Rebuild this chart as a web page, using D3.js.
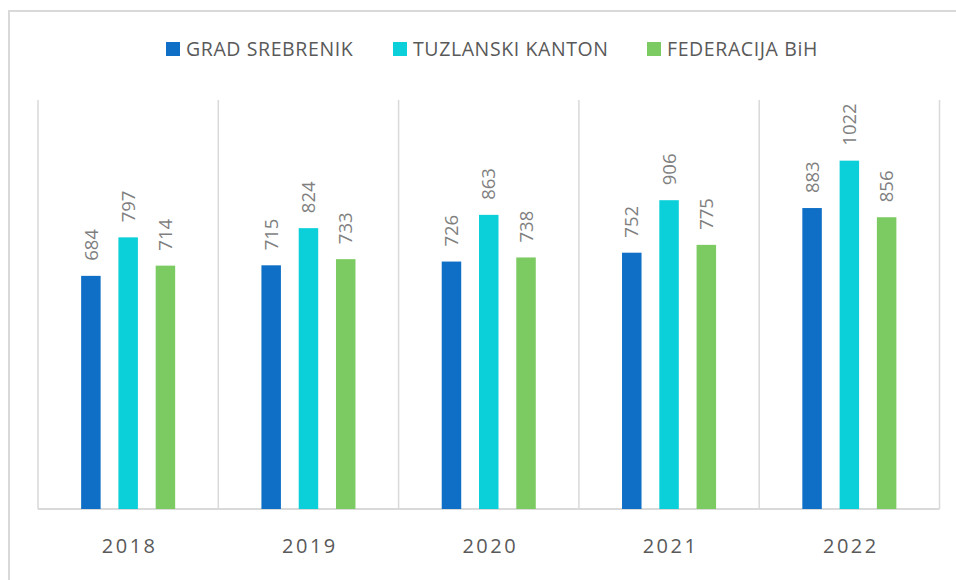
<!DOCTYPE html>
<meta charset="utf-8">
<style>
body { margin: 0; background: #fff; }
text { font-family: "Open Sans", sans-serif; }
.legend text { font-size: 19.5px; fill: #595959; letter-spacing: 0.6px; }
.axis text { font-size: 20px; fill: #595959; letter-spacing: 2.5px; }
.label { font-size: 18.5px; fill: #7f7f7f; }
.grid line { stroke: #d9d9d9; stroke-width: 1.5; }
</style>
<svg id="chart" width="956" height="580"></svg>
<script src="https://d3js.org/d3.v7.min.js"></script>
<script>

var years = ["2018", "2019", "2020", "2021", "2022"];
var series = ["GRAD SREBRENIK", "TUZLANSKI KANTON", "FEDERACIJA BiH"];
var colors = ["#0f6fc6", "#0bd0d9", "#7cca62"];
var gradSrebrenik = [684, 715, 726, 752, 883];
var tuzlanskiKanton = [797, 824, 863, 906, 1022];
var federacijaBih = [714, 733, 738, 775, 856];

var values = [gradSrebrenik, tuzlanskiKanton, federacijaBih];

var svg = d3.select("#chart"),
    margin = {top: 100, right: 16, bottom: 71, left: 38},
    width = +svg.attr("width") - margin.left - margin.right,
    height = +svg.attr("height") - margin.top - margin.bottom;

// outer chart frame, runs off the right and bottom edge like the original
svg.append("rect")
    .attr("x", 9).attr("y", 11)
    .attr("width", 1000).attr("height", 1000)
    .attr("fill", "none")
    .attr("stroke", "#d9d9d9")
    .attr("stroke-width", 2);

var g = svg.append("g")
    .attr("transform", "translate(" + margin.left + "," + margin.top + ")");

var x0 = d3.scaleBand()
    .domain(years)
    .range([0, width - 0.5]);

var x1 = d3.scaleBand()
    .domain(series)
    .range([0, x0.bandwidth()])
    .paddingInner(0.477)
    .paddingOuter(1.157);

var y = d3.scaleLinear()
    .domain([0, 1200])
    .range([height, 0]);

// category separators + baseline
var grid = g.append("g").attr("class", "grid");
grid.selectAll(".sep")
    .data(years.concat(["end"]))
  .enter().append("line")
    .attr("class", "sep")
    .attr("x1", function(d, i) { return i < years.length ? x0(d) : x0(years[years.length - 1]) + x0.bandwidth(); })
    .attr("x2", function(d, i) { return i < years.length ? x0(d) : x0(years[years.length - 1]) + x0.bandwidth(); })
    .attr("y1", y(1200))
    .attr("y2", y(0));

grid.append("line")
    .attr("x1", 0)
    .attr("x2", x0.range()[1])
    .attr("y1", y(0))
    .attr("y2", y(0))
    .style("stroke-width", 2);

var rows = [];
years.forEach(function(yr, i) {
  series.forEach(function(s, j) {
    rows.push({year: yr, series: s, value: values[j][i], color: colors[j]});
  });
});

var bars = g.selectAll(".bar")
    .data(rows)
  .enter().append("g")
    .attr("class", "bar");

bars.append("rect")
    .attr("x", function(d) { return x0(d.year) + x1(d.series); })
    .attr("width", x1.bandwidth())
    .attr("y", function(d) { return y(d.value); })
    .attr("height", function(d) { return y(0) - y(d.value); })
    .attr("fill", function(d) { return d.color; });

bars.append("text")
    .attr("class", "label")
    .attr("transform", function(d) {
      var cx = x0(d.year) + x1(d.series) + x1.bandwidth() / 2;
      return "translate(" + cx + "," + (y(d.value) - 15) + ") rotate(-90)";
    })
    .attr("dy", "0.36em")
    .text(function(d) { return d.value; });

// x axis labels (no ticks, just text)
var axis = g.append("g")
    .attr("class", "axis")
    .attr("transform", "translate(0," + height + ")");

axis.selectAll("text")
    .data(years)
  .enter().append("text")
    .attr("x", function(d) { return x0(d) + x0.bandwidth() / 2 + 1.5; })
    .attr("y", 44)
    .attr("text-anchor", "middle")
    .text(function(d) { return d; });

// legend
var legendX = [166, 393, 647];
var legend = svg.append("g")
    .attr("class", "legend")
  .selectAll("g")
    .data(series)
  .enter().append("g")
    .attr("transform", function(d, i) { return "translate(" + legendX[i] + ",42)"; });

legend.append("rect")
    .attr("width", 14)
    .attr("height", 14)
    .attr("fill", function(d, i) { return colors[i]; });

legend.append("text")
    .attr("x", 20)
    .attr("y", 14)
    .text(function(d) { return d; });

</script>
